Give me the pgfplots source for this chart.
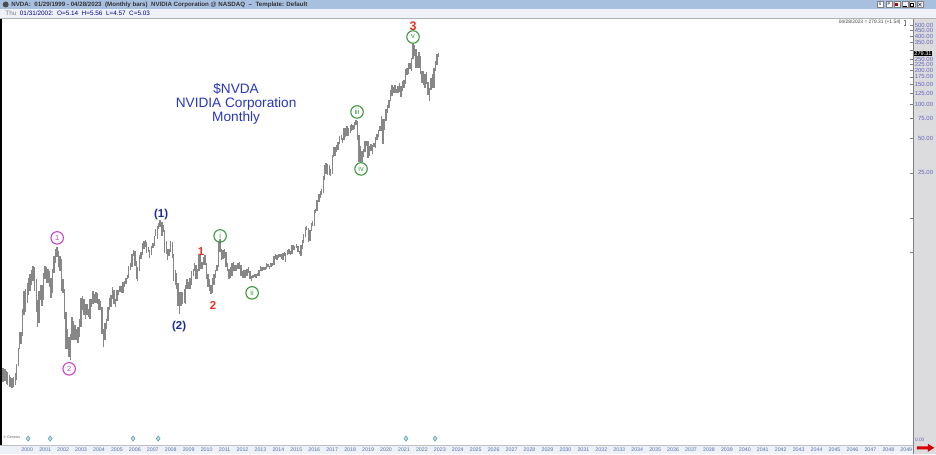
\documentclass[border=0pt]{standalone}
\usepackage{pgfplots}
\pgfplotsset{compat=1.18}
\usepackage{fontspec}
\setmainfont{Liberation Sans}
\definecolor{hdr}{RGB}{168,192,224}
\definecolor{hdrtwo}{RGB}{238,242,248}
\definecolor{panel}{RGB}{220,220,222}
\definecolor{lbl}{RGB}{100,100,190}
\definecolor{yr}{RGB}{90,110,165}
\definecolor{barc}{RGB}{135,135,135}
\definecolor{ttl}{RGB}{40,55,190}
\definecolor{navy}{RGB}{30,40,150}
\definecolor{wred}{RGB}{230,50,30}
\definecolor{wgreen}{RGB}{60,150,60}
\definecolor{wmag}{RGB}{200,70,200}
\definecolor{splitc}{RGB}{120,200,215}
\begin{document}
\begin{tikzpicture}[x=1bp,y=1bp]
\fill[white] (0,0) rectangle (936,454);
\fill[panel] (913,0) rectangle (936,436);
\fill[hdrtwo] (0,0) rectangle (913,9);
\fill[hdr] (0,445) rectangle (936,454);
\fill[hdrtwo] (0,436) rectangle (936,445);
\begin{axis}[
  at={(0bp,9bp)}, anchor=south west, scale only axis,
  width=913bp, height=427bp,
  xmin=1998.873, xmax=2049.737,
  ymode=log, ymin=0.1014, ymax=576.1,
  axis line style={draw=none},
  ytick pos=right, yticklabel pos=right,
  ytick={25,50,75,100,125,150,175,200,225,250,350,400,450,500},
  yticklabels={25.00,50.00,75.00,100.00,125.00,150.00,175.00,200.00,225.00,250.00,350.00,400.00,450.00,500.00},
  extra y ticks={5,10,300}, extra y tick labels={},
  yminorticks=false,
  major tick length=3bp, tick align=inside,
  y tick style={draw=gray, line width=0.5bp},
  yticklabel style={anchor=east, xshift=20.5bp, inner sep=0pt, font=\fontsize{6}{6}\selectfont, text=lbl},
  xtick={2000,...,2049}, xtick pos=bottom, x tick style={draw=none},
  xticklabel style={anchor=base, yshift=-6.3bp, xshift=6.8bp, inner sep=0pt, font=\fontsize{5.3}{5.5}\selectfont, text=yr, /pgf/number format/1000 sep={}},
  /pgf/number format/assume math mode=true,
]
\addplot[barc, line width=1.4bp, mark=none, unbounded coords=jump] table[row sep=\\] {t p\\
1999.04 .36\\1999.04 .48\\1999.04 nan\\
1999.13 .37\\1999.13 .47\\1999.13 nan\\
1999.21 .35\\1999.21 .45\\1999.21 nan\\
1999.29 .34\\1999.29 .44\\1999.29 nan\\
1999.38 .33\\1999.38 .42\\1999.38 nan\\
1999.46 .33\\1999.46 .40\\1999.46 nan\\
1999.54 .32\\1999.54 .39\\1999.54 nan\\
1999.63 .33\\1999.63 .40\\1999.63 nan\\
1999.71 .34\\1999.71 .43\\1999.71 nan\\
1999.79 .38\\1999.79 .52\\1999.79 nan\\
1999.88 .50\\1999.88 .72\\1999.88 nan\\
1999.96 .70\\1999.96 1.00\\1999.96 nan\\
2000.04 .78\\2000.04 1.00\\2000.04 nan\\
2000.13 .92\\2000.13 1.60\\2000.13 nan\\
2000.21 1.40\\2000.21 2.30\\2000.21 nan\\
2000.29 1.50\\2000.29 2.40\\2000.29 nan\\
2000.38 1.80\\2000.38 2.70\\2000.38 nan\\
2000.46 2.10\\2000.46 3.00\\2000.46 nan\\
2000.54 2.30\\2000.54 3.20\\2000.54 nan\\
2000.63 2.60\\2000.63 3.50\\2000.63 nan\\
2000.71 2.80\\2000.71 3.80\\2000.71 nan\\
2000.79 2.30\\2000.79 3.70\\2000.79 nan\\
2000.88 1.50\\2000.88 2.90\\2000.88 nan\\
2000.96 1.10\\2000.96 1.90\\2000.96 nan\\
2001.04 1.20\\2001.04 2.30\\2001.04 nan\\
2001.13 1.90\\2001.13 2.60\\2001.13 nan\\
2001.21 1.70\\2001.21 2.60\\2001.21 nan\\
2001.29 1.90\\2001.29 3.30\\2001.29 nan\\
2001.38 2.90\\2001.38 3.80\\2001.38 nan\\
2001.46 2.70\\2001.46 3.70\\2001.46 nan\\
2001.54 2.70\\2001.54 3.60\\2001.54 nan\\
2001.63 2.50\\2001.63 3.40\\2001.63 nan\\
2001.71 2.00\\2001.71 3.00\\2001.71 nan\\
2001.79 2.20\\2001.79 3.60\\2001.79 nan\\
2001.88 3.30\\2001.88 4.60\\2001.88 nan\\
2001.96 4.00\\2001.96 5.40\\2001.96 nan\\
2002.04 4.57\\2002.04 5.56\\2002.04 nan\\
2002.13 3.70\\2002.13 5.10\\2002.13 nan\\
2002.21 3.40\\2002.21 4.60\\2002.21 nan\\
2002.29 2.30\\2002.29 4.40\\2002.29 nan\\
2002.38 2.20\\2002.38 2.90\\2002.38 nan\\
2002.46 1.30\\2002.46 2.40\\2002.46 nan\\
2002.54 .70\\2002.54 1.50\\2002.54 nan\\
2002.63 .70\\2002.63 1.05\\2002.63 nan\\
2002.71 .60\\2002.71 .90\\2002.71 nan\\
2002.79 .57\\2002.79 .95\\2002.79 nan\\
2002.88 .85\\2002.88 1.35\\2002.88 nan\\
2002.96 .85\\2002.96 1.25\\2002.96 nan\\
2003.04 .85\\2003.04 1.15\\2003.04 nan\\
2003.13 .85\\2003.13 1.05\\2003.13 nan\\
2003.21 .80\\2003.21 1.10\\2003.21 nan\\
2003.29 .90\\2003.29 1.30\\2003.29 nan\\
2003.38 1.10\\2003.38 2.00\\2003.38 nan\\
2003.46 1.55\\2003.46 2.05\\2003.46 nan\\
2003.54 1.40\\2003.54 1.95\\2003.54 nan\\
2003.63 1.30\\2003.63 1.75\\2003.63 nan\\
2003.71 1.40\\2003.71 1.75\\2003.71 nan\\
2003.79 1.35\\2003.79 1.60\\2003.79 nan\\
2003.88 1.30\\2003.88 1.95\\2003.88 nan\\
2003.96 1.65\\2003.96 1.95\\2003.96 nan\\
2004.04 1.75\\2004.04 2.30\\2004.04 nan\\
2004.13 1.80\\2004.13 2.15\\2004.13 nan\\
2004.21 1.80\\2004.21 2.25\\2004.21 nan\\
2004.29 1.75\\2004.29 2.20\\2004.29 nan\\
2004.38 1.55\\2004.38 1.95\\2004.38 nan\\
2004.46 1.55\\2004.46 1.85\\2004.46 nan\\
2004.54 .95\\2004.54 1.65\\2004.54 nan\\
2004.63 .73\\2004.63 1.05\\2004.63 nan\\
2004.71 .85\\2004.71 1.20\\2004.71 nan\\
2004.79 1.05\\2004.79 1.30\\2004.79 nan\\
2004.88 1.25\\2004.88 1.65\\2004.88 nan\\
2004.96 1.55\\2004.96 2.00\\2004.96 nan\\
2005.04 1.65\\2005.04 2.10\\2005.04 nan\\
2005.13 1.95\\2005.13 2.50\\2005.13 nan\\
2005.21 1.75\\2005.21 2.35\\2005.21 nan\\
2005.29 1.65\\2005.29 1.95\\2005.29 nan\\
2005.38 1.85\\2005.38 2.35\\2005.38 nan\\
2005.46 2.10\\2005.46 2.35\\2005.46 nan\\
2005.54 2.25\\2005.54 2.55\\2005.54 nan\\
2005.63 2.20\\2005.63 2.55\\2005.63 nan\\
2005.71 2.20\\2005.71 2.75\\2005.71 nan\\
2005.79 2.50\\2005.79 2.80\\2005.79 nan\\
2005.88 2.65\\2005.88 3.00\\2005.88 nan\\
2005.96 2.90\\2005.96 3.15\\2005.96 nan\\
2006.04 3.00\\2006.04 3.80\\2006.04 nan\\
2006.13 3.50\\2006.13 4.00\\2006.13 nan\\
2006.21 3.70\\2006.21 4.80\\2006.21 nan\\
2006.29 4.60\\2006.29 5.20\\2006.29 nan\\
2006.38 3.80\\2006.38 5.10\\2006.38 nan\\
2006.46 2.90\\2006.46 4.20\\2006.46 nan\\
2006.54 2.80\\2006.54 3.70\\2006.54 nan\\
2006.63 3.40\\2006.63 4.70\\2006.63 nan\\
2006.71 4.40\\2006.71 5.00\\2006.71 nan\\
2006.79 4.70\\2006.79 6.00\\2006.79 nan\\
2006.88 5.40\\2006.88 6.30\\2006.88 nan\\
2006.96 5.60\\2006.96 6.40\\2006.96 nan\\
2007.04 4.90\\2007.04 6.20\\2007.04 nan\\
2007.13 5.00\\2007.13 5.60\\2007.13 nan\\
2007.21 4.50\\2007.21 5.20\\2007.21 nan\\
2007.29 4.70\\2007.29 5.70\\2007.29 nan\\
2007.38 5.50\\2007.38 6.00\\2007.38 nan\\
2007.46 5.70\\2007.46 7.00\\2007.46 nan\\
2007.54 6.90\\2007.54 8.10\\2007.54 nan\\
2007.63 6.60\\2007.63 8.50\\2007.63 nan\\
2007.71 8.00\\2007.71 9.00\\2007.71 nan\\
2007.79 8.40\\2007.79 9.60\\2007.79 nan\\
2007.88 7.00\\2007.88 9.20\\2007.88 nan\\
2007.96 7.50\\2007.96 8.70\\2007.96 nan\\
2008.04 4.90\\2008.04 7.80\\2008.04 nan\\
2008.13 4.80\\2008.13 6.30\\2008.13 nan\\
2008.21 4.30\\2008.21 5.30\\2008.21 nan\\
2008.29 4.60\\2008.29 5.40\\2008.29 nan\\
2008.38 5.00\\2008.38 6.30\\2008.38 nan\\
2008.46 4.50\\2008.46 6.20\\2008.46 nan\\
2008.54 2.80\\2008.54 4.80\\2008.54 nan\\
2008.63 2.60\\2008.63 3.50\\2008.63 nan\\
2008.71 2.40\\2008.71 3.30\\2008.71 nan\\
2008.79 1.70\\2008.79 2.70\\2008.79 nan\\
2008.88 1.42\\2008.88 2.25\\2008.88 nan\\
2008.96 1.70\\2008.96 2.25\\2008.96 nan\\
2009.04 1.75\\2009.04 2.25\\2009.04 nan\\
2009.13 1.80\\2009.13 2.40\\2009.13 nan\\
2009.21 1.75\\2009.21 2.60\\2009.21 nan\\
2009.29 2.40\\2009.29 2.90\\2009.29 nan\\
2009.38 2.40\\2009.38 2.75\\2009.38 nan\\
2009.46 2.40\\2009.46 3.00\\2009.46 nan\\
2009.54 2.60\\2009.54 3.40\\2009.54 nan\\
2009.63 3.10\\2009.63 3.60\\2009.63 nan\\
2009.71 3.40\\2009.71 4.00\\2009.71 nan\\
2009.79 2.90\\2009.79 3.90\\2009.79 nan\\
2009.88 2.90\\2009.88 3.60\\2009.88 nan\\
2009.96 3.40\\2009.96 4.70\\2009.96 nan\\
2010.04 3.60\\2010.04 4.75\\2010.04 nan\\
2010.13 3.60\\2010.13 4.10\\2010.13 nan\\
2010.21 3.90\\2010.21 4.55\\2010.21 nan\\
2010.29 3.90\\2010.29 4.70\\2010.29 nan\\
2010.38 2.90\\2010.38 4.00\\2010.38 nan\\
2010.46 2.50\\2010.46 3.25\\2010.46 nan\\
2010.54 2.30\\2010.54 2.90\\2010.54 nan\\
2010.63 2.15\\2010.63 2.60\\2010.63 nan\\
2010.71 2.20\\2010.71 3.00\\2010.71 nan\\
2010.79 2.60\\2010.79 3.20\\2010.79 nan\\
2010.88 2.95\\2010.88 3.50\\2010.88 nan\\
2010.96 3.40\\2010.96 3.90\\2010.96 nan\\
2011.04 3.75\\2011.04 6.20\\2011.04 nan\\
2011.13 5.00\\2011.13 6.50\\2011.13 nan\\
2011.21 4.25\\2011.21 5.40\\2011.21 nan\\
2011.29 4.40\\2011.29 5.25\\2011.29 nan\\
2011.38 4.50\\2011.38 5.40\\2011.38 nan\\
2011.46 3.75\\2011.46 5.00\\2011.46 nan\\
2011.54 3.40\\2011.54 4.00\\2011.54 nan\\
2011.63 2.90\\2011.63 3.60\\2011.63 nan\\
2011.71 3.00\\2011.71 3.75\\2011.71 nan\\
2011.79 3.10\\2011.79 4.00\\2011.79 nan\\
2011.88 3.40\\2011.88 4.10\\2011.88 nan\\
2011.96 3.40\\2011.96 3.90\\2011.96 nan\\
2012.04 3.45\\2012.04 3.90\\2012.04 nan\\
2012.13 3.60\\2012.13 4.05\\2012.13 nan\\
2012.21 3.60\\2012.21 4.10\\2012.21 nan\\
2012.29 3.10\\2012.29 3.90\\2012.29 nan\\
2012.38 3.00\\2012.38 3.40\\2012.38 nan\\
2012.46 3.00\\2012.46 3.50\\2012.46 nan\\
2012.54 2.95\\2012.54 3.50\\2012.54 nan\\
2012.63 3.10\\2012.63 3.60\\2012.63 nan\\
2012.71 3.30\\2012.71 3.75\\2012.71 nan\\
2012.79 2.90\\2012.79 3.40\\2012.79 nan\\
2012.88 2.80\\2012.88 3.10\\2012.88 nan\\
2012.96 2.95\\2012.96 3.15\\2012.96 nan\\
2013.04 3.05\\2013.04 3.25\\2013.04 nan\\
2013.13 3.00\\2013.13 3.20\\2013.13 nan\\
2013.21 3.10\\2013.21 3.30\\2013.21 nan\\
2013.29 3.10\\2013.29 3.50\\2013.29 nan\\
2013.38 3.40\\2013.38 3.80\\2013.38 nan\\
2013.46 3.40\\2013.46 3.70\\2013.46 nan\\
2013.54 3.50\\2013.54 3.70\\2013.54 nan\\
2013.63 3.50\\2013.63 3.70\\2013.63 nan\\
2013.71 3.60\\2013.71 4.00\\2013.71 nan\\
2013.79 3.70\\2013.79 3.95\\2013.79 nan\\
2013.88 3.55\\2013.88 3.80\\2013.88 nan\\
2013.96 3.75\\2013.96 4.00\\2013.96 nan\\
2014.04 3.80\\2014.04 4.05\\2014.04 nan\\
2014.13 3.90\\2014.13 4.60\\2014.13 nan\\
2014.21 4.35\\2014.21 4.80\\2014.21 nan\\
2014.29 4.30\\2014.29 4.70\\2014.29 nan\\
2014.38 4.45\\2014.38 4.85\\2014.38 nan\\
2014.46 4.55\\2014.46 4.85\\2014.46 nan\\
2014.54 4.35\\2014.54 4.80\\2014.54 nan\\
2014.63 4.30\\2014.63 4.90\\2014.63 nan\\
2014.71 4.60\\2014.71 5.05\\2014.71 nan\\
2014.79 4.10\\2014.79 4.90\\2014.79 nan\\
2014.88 4.70\\2014.88 5.20\\2014.88 nan\\
2014.96 4.80\\2014.96 5.30\\2014.96 nan\\
2015.04 4.70\\2015.04 5.15\\2015.04 nan\\
2015.13 4.85\\2015.13 5.85\\2015.13 nan\\
2015.21 5.20\\2015.21 5.80\\2015.21 nan\\
2015.29 5.20\\2015.29 5.70\\2015.29 nan\\
2015.38 5.50\\2015.38 5.90\\2015.38 nan\\
2015.46 5.00\\2015.46 5.65\\2015.46 nan\\
2015.54 4.80\\2015.54 5.15\\2015.54 nan\\
2015.63 4.60\\2015.63 5.80\\2015.63 nan\\
2015.71 5.40\\2015.71 6.40\\2015.71 nan\\
2015.79 6.00\\2015.79 7.25\\2015.79 nan\\
2015.88 6.85\\2015.88 8.35\\2015.88 nan\\
2015.96 7.90\\2015.96 8.50\\2015.96 nan\\
2016.04 6.20\\2016.04 8.25\\2016.04 nan\\
2016.13 6.30\\2016.13 7.90\\2016.13 nan\\
2016.21 7.70\\2016.21 9.05\\2016.21 nan\\
2016.29 8.60\\2016.29 9.40\\2016.29 nan\\
2016.38 8.60\\2016.38 11.70\\2016.38 nan\\
2016.46 11.00\\2016.46 12.05\\2016.46 nan\\
2016.54 11.60\\2016.54 14.50\\2016.54 nan\\
2016.63 13.95\\2016.63 16.40\\2016.63 nan\\
2016.71 15.10\\2016.71 17.30\\2016.71 nan\\
2016.79 16.00\\2016.79 18.20\\2016.79 nan\\
2016.88 16.75\\2016.88 23.70\\2016.88 nan\\
2016.96 21.50\\2016.96 29.30\\2016.96 nan\\
2017.04 24.30\\2017.04 30.30\\2017.04 nan\\
2017.13 24.00\\2017.13 30.00\\2017.13 nan\\
2017.21 23.80\\2017.21 29.30\\2017.21 nan\\
2017.29 23.30\\2017.29 27.30\\2017.29 nan\\
2017.38 24.50\\2017.38 36.00\\2017.38 nan\\
2017.46 34.50\\2017.46 42.10\\2017.46 nan\\
2017.54 35.30\\2017.54 42.30\\2017.54 nan\\
2017.63 38.00\\2017.63 43.80\\2017.63 nan\\
2017.71 40.00\\2017.71 46.30\\2017.71 nan\\
2017.79 44.80\\2017.79 52.30\\2017.79 nan\\
2017.88 48.80\\2017.88 54.30\\2017.88 nan\\
2017.96 45.80\\2017.96 50.80\\2017.96 nan\\
2018.04 48.30\\2018.04 62.50\\2018.04 nan\\
2018.13 52.00\\2018.13 62.50\\2018.13 nan\\
2018.21 53.30\\2018.21 64.30\\2018.21 nan\\
2018.29 53.00\\2018.29 62.50\\2018.29 nan\\
2018.38 56.00\\2018.38 66.30\\2018.38 nan\\
2018.46 58.50\\2018.46 67.50\\2018.46 nan\\
2018.54 59.30\\2018.54 65.50\\2018.54 nan\\
2018.63 60.30\\2018.63 70.30\\2018.63 nan\\
2018.71 65.50\\2018.71 73.20\\2018.71 nan\\
2018.79 48.80\\2018.79 72.00\\2018.79 nan\\
2018.88 31.10\\2018.88 53.80\\2018.88 nan\\
2018.96 31.10\\2018.96 43.50\\2018.96 nan\\
2019.04 31.10\\2019.04 39.30\\2019.04 nan\\
2019.13 34.30\\2019.13 40.80\\2019.13 nan\\
2019.21 37.80\\2019.21 48.00\\2019.21 nan\\
2019.29 43.50\\2019.29 47.80\\2019.29 nan\\
2019.38 33.80\\2019.38 47.80\\2019.38 nan\\
2019.46 35.00\\2019.46 43.30\\2019.46 nan\\
2019.54 38.80\\2019.54 44.80\\2019.54 nan\\
2019.63 36.50\\2019.63 44.00\\2019.63 nan\\
2019.71 41.80\\2019.71 46.00\\2019.71 nan\\
2019.79 41.30\\2019.79 51.30\\2019.79 nan\\
2019.88 49.00\\2019.88 55.30\\2019.88 nan\\
2019.96 51.30\\2019.96 59.80\\2019.96 nan\\
2020.04 58.50\\2020.04 65.00\\2020.04 nan\\
2020.13 58.00\\2020.13 79.00\\2020.13 nan\\
2020.21 45.00\\2020.21 74.00\\2020.21 nan\\
2020.29 59.00\\2020.29 75.00\\2020.29 nan\\
2020.38 70.80\\2020.38 90.50\\2020.38 nan\\
2020.46 84.30\\2020.46 98.30\\2020.46 nan\\
2020.54 92.50\\2020.54 109.50\\2020.54 nan\\
2020.63 107.50\\2020.63 134.80\\2020.63 nan\\
2020.71 118.00\\2020.71 147.30\\2020.71 nan\\
2020.79 125.00\\2020.79 143.00\\2020.79 nan\\
2020.88 127.00\\2020.88 147.50\\2020.88 nan\\
2020.96 126.00\\2020.96 137.50\\2020.96 nan\\
2021.04 125.00\\2021.04 144.00\\2021.04 nan\\
2021.13 129.50\\2021.13 153.50\\2021.13 nan\\
2021.21 115.50\\2021.21 143.80\\2021.21 nan\\
2021.29 131.00\\2021.29 162.00\\2021.29 nan\\
2021.38 140.00\\2021.38 162.50\\2021.38 nan\\
2021.46 151.80\\2021.46 203.80\\2021.46 nan\\
2021.54 181.00\\2021.54 208.00\\2021.54 nan\\
2021.63 187.00\\2021.63 230.00\\2021.63 nan\\
2021.71 206.00\\2021.71 230.00\\2021.71 nan\\
2021.79 196.00\\2021.79 256.00\\2021.79 nan\\
2021.88 250.00\\2021.88 346.50\\2021.88 nan\\
2021.96 268.00\\2021.96 330.00\\2021.96 nan\\
2022.04 208.00\\2022.04 307.00\\2022.04 nan\\
2022.13 208.00\\2022.13 268.00\\2022.13 nan\\
2022.21 208.00\\2022.21 289.00\\2022.21 nan\\
2022.29 185.00\\2022.29 268.00\\2022.29 nan\\
2022.38 155.00\\2022.38 197.00\\2022.38 nan\\
2022.46 148.00\\2022.46 195.00\\2022.46 nan\\
2022.54 140.00\\2022.54 186.00\\2022.54 nan\\
2022.63 150.00\\2022.63 192.00\\2022.63 nan\\
2022.71 120.00\\2022.71 158.00\\2022.71 nan\\
2022.79 108.00\\2022.79 140.00\\2022.79 nan\\
2022.88 133.00\\2022.88 172.00\\2022.88 nan\\
2022.96 140.00\\2022.96 187.00\\2022.96 nan\\
2023.04 140.00\\2023.04 209.00\\2023.04 nan\\
2023.13 196.00\\2023.13 239.00\\2023.13 nan\\
2023.21 222.00\\2023.21 279.00\\2023.21 nan\\
2023.29 262.00\\2023.29 283.00\\2023.29 nan\\
};
\addplot[only marks, mark=diamond*, mark size=2.6bp, mark options={draw=splitc!75!black, fill=splitc!55!white, line width=0.5bp}] coordinates {(2000.43,0.115) (2001.66,0.115) (2006.28,0.115) (2007.68,0.115) (2021.49,0.115) (2023.11,0.115)};
\end{axis}
% frame lines
\fill[black] (0,9) rectangle (1.6,436);
\draw[gray, line width=0.6bp] (913,0) -- (913,436);
\draw[gray!50, line width=0.4bp] (0,9) -- (913,9);
\draw[gray!60, line width=0.4bp] (0,436) -- (936,436);
% header
\fill[black!70] (5.5,449.5) circle (3bp);
\node[anchor=west, inner sep=0pt, font=\bfseries\fontsize{6.2}{6.5}\selectfont, text=black!80] at (11,449.5) {NVDA:\ \ 01/29/1999 - 04/28/2023\ \ (Monthly bars)\ \ NVIDIA Corporation @ NASDAQ\ \ --\ \ Template: Default};
\node[anchor=west, inner sep=0pt, font=\fontsize{6.4}{6.5}\selectfont] at (5,440.5) {\textcolor{gray}{Thu}\ \ \textcolor{blue!55!black}{01/31/2002:\ \ O=5.14\ \ H=5.56\ \ L=4.57\ \ C=5.03}};
\foreach \x/\l in {880/S,889/P} {\node[draw=gray, fill=white, minimum size=6bp, inner sep=0pt, font=\fontsize{4}{4}\selectfont] at (\x,449.5) {\l};}
\node[draw=gray, fill=white, minimum size=6bp, inner sep=0pt] at (897,449.5) {};
\fill[red!80!black] (895.5,448) rectangle (898.5,451);
\node[draw=gray, fill=hdrtwo, minimum size=6bp, inner sep=0pt] at (905,449.5) {};
\draw[black] (903,447.5) -- (907,447.5);
\node[draw=gray, fill=hdrtwo, minimum size=6bp, inner sep=0pt] at (912,449.5) {};
\draw[black] (910.5,448) rectangle (913.5,451);
\node[draw=gray, fill=hdrtwo, minimum size=6bp, inner sep=0pt] at (920,449.5) {};
\draw[black] (918.3,447.8) -- (921.7,451.2) (918.3,451.2) -- (921.7,447.8);
% right panel extras
\node[anchor=east, inner sep=0pt, font=\fontsize{4.9}{5}\selectfont, text=black!75] at (901,432) {04/28/2023 = 279.31 (+1.54)};
\draw[gray, line width=0.4bp] (904,434) -- (905,434) -- (905,429) -- (904,429);
\node[anchor=east, fill=black, text=white, inner sep=0.6bp, font=\fontsize{5.6}{6}\selectfont] at (932.5,400.2) {279.31};
\node[anchor=west, inner sep=0pt, font=\fontsize{4.8}{5}\selectfont, text=lbl] at (915,13.5) {0.00};
\fill[red!85!black] (917,4.5) -- (928,4.5) -- (928,2) -- (934.5,6) -- (928,10) -- (928,7.5) -- (917,7.5) -- cycle;
\node[anchor=west, inner sep=0pt, font=\fontsize{3.6}{4}\selectfont, text=black!60] at (3,17) {\textcopyright\ Genesis};
% title text
\node[text=ttl, align=center, font=\fontsize{13.7}{14}\selectfont] at (236,350) {\$NVDA\\NVIDIA Corporation\\Monthly};
% wave labels
\tikzset{circ/.style={circle, draw, line width=1.1bp, inner sep=0pt, minimum size=12.5bp, font=\fontsize{7.5}{7.5}\selectfont}}
\node[circ, draw=wmag, text=wmag] at (57,216) {1};
\node[circ, draw=wmag, text=wmag] at (69,85) {2};
\node[text=navy, font=\bfseries\fontsize{11.5}{11.5}\selectfont] at (161,239) {(1)};
\node[text=navy, font=\bfseries\fontsize{11.5}{11.5}\selectfont] at (179,127) {(2)};
\node[text=wred, font=\bfseries\fontsize{11.5}{11.5}\selectfont] at (201,202) {1};
\node[text=wred, font=\bfseries\fontsize{11.5}{11.5}\selectfont] at (213,148) {2};
\node[text=wred, font=\bfseries\fontsize{12.5}{12.5}\selectfont] at (413,428) {3};
\node[circ, draw=wgreen, text=wgreen] at (220,218) {i};
\node[circ, draw=wgreen, text=wgreen] at (252,161) {ii};
\node[circ, draw=wgreen, text=wgreen] at (357,342) {iii};
\node[circ, draw=wgreen, text=wgreen] at (361,285) {iv};
\node[circ, draw=wgreen, text=wgreen] at (413,417) {v};
\end{tikzpicture}
\end{document}
